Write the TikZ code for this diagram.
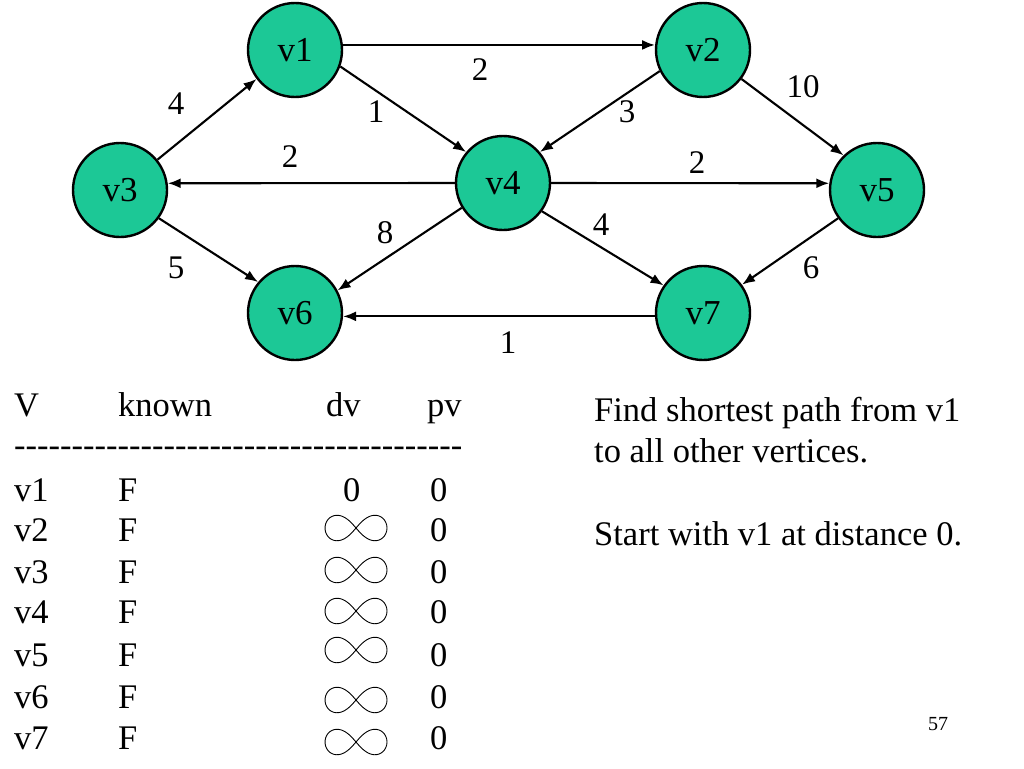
\documentclass[tikz,border=0pt]{standalone}
\usepackage{fontspec}
\setmainfont{Liberation Serif}
\usetikzlibrary{arrows.meta}
\definecolor{nodegreen}{RGB}{28,200,150}
\tikzset{
  vert/.style={circle, draw=black, line width=2.4pt, fill=nodegreen, minimum size=94pt, inner sep=0pt, font=\fontsize{35}{38}\selectfont},
  edge/.style={line width=2.1pt, -{Latex[length=13pt,width=10pt]}},
  wlab/.style={font=\fontsize{33}{36}\selectfont, inner sep=0pt},
  txt/.style={font=\fontsize{34.5}{40}\selectfont, inner sep=0pt, anchor=base west},
  infsym/.style={line width=0.9pt}
}
\newcommand{\myinf}[2]{\draw[infsym, shift={(#1,#2)}] plot[domain=0:360, samples=80, smooth cycle] ({31*cos(\x)/(1+sin(\x)^2)}, {36*sin(\x)*cos(\x)/(1+sin(\x)^2)});}
\def\hy{-\kern0pt}
\begin{document}
\begin{tikzpicture}[x=1pt,y=-1pt]
\useasboundingbox (0,0) rectangle (1024,768);
% vertices
\node[vert] (v1) at (295,50) {v1};
\node[vert] (v2) at (703,50) {v2};
\node[vert] (v3) at (120,190) {v3};
\node[vert] (v4) at (503,183) {v4};
\node[vert] (v5) at (877,190) {v5};
\node[vert] (v6) at (295,313) {v6};
\node[vert] (v7) at (703,313) {v7};
% edges
\draw[edge] (v1.6) -- (v2.174);
\draw[edge] (v1.-20) -- (v4.140);
\draw[edge] (v2.206) -- (v4.40);
\draw[edge] (v2.-37) -- (v5.134);
\draw[edge] (v3.39) -- (v1.217);
\draw[edge] (v4.west) -- (v3.8);
\draw[edge] (v4.east) -- (v5.172);
\draw[edge] (v3.-36) -- (v6.140);
\draw[edge] (v4.211) -- (v6.28);
\draw[edge] (v4.-36) -- (v7.145);
\draw[edge] (v5.216) -- (v7.36);
\draw[edge] (v7.184) -- (v6.-4);
% weights
\node[wlab] (w12) at (480,70) {2};
\node[wlab] (w14) at (376,112) {1};
\node[wlab] (w24) at (627,112) {3};
\node[wlab] (w25) at (803,87) {10};
\node[wlab] (w31) at (176,104) {4};
\node[wlab] (w43) at (290,157) {2};
\node[wlab] (w45) at (697,163) {2};
\node[wlab] (w36) at (176,268) {5};
\node[wlab] (w46) at (385,233) {8};
\node[wlab] (w47) at (601,225) {4};
\node[wlab] (w57) at (811,268) {6};
\node[wlab] (w76) at (508,343) {1};
% table header
\node[txt] (hV) at (14,416) {V};
\node[txt] (hk) at (118,416) {known};
\node[txt] (hd) at (326,416) {dv};
\node[txt] (hp) at (427,416) {pv};
\node[txt] (dash) at (14,456) {\hy\hy\hy\hy\hy\hy\hy\hy\hy\hy\hy\hy\hy\hy\hy\hy\hy\hy\hy\hy\hy\hy\hy\hy\hy\hy\hy\hy\hy\hy\hy\hy\hy\hy\hy\hy\hy\hy\hy};
% rows
\foreach \n/\y in {1/501,2/541,3/583,4/623,5/666,6/708,7/749}{
  \node[txt] (r\n) at (14,\y) {v\n};
  \node[txt] (k\n) at (118,\y) {F};
  \node[txt] (p\n) at (430,\y) {0};
}
\node[txt] (d1) at (343,501) {0};
\myinf{356}{528}
\myinf{356}{570}
\myinf{356}{611}
\myinf{356}{650}
\myinf{356}{700}
\myinf{356}{742}
% right text
\node[txt] (t1) at (594,421) {Find shortest path from v1};
\node[txt] (t2) at (594,462) {to all other vertices.};
\node[txt] (t3) at (594,545) {Start with v1 at distance 0.};
\node[font=\fontsize{20}{22}\selectfont, inner sep=0pt] (pg) at (938,724) {57};
\end{tikzpicture}
\end{document}
